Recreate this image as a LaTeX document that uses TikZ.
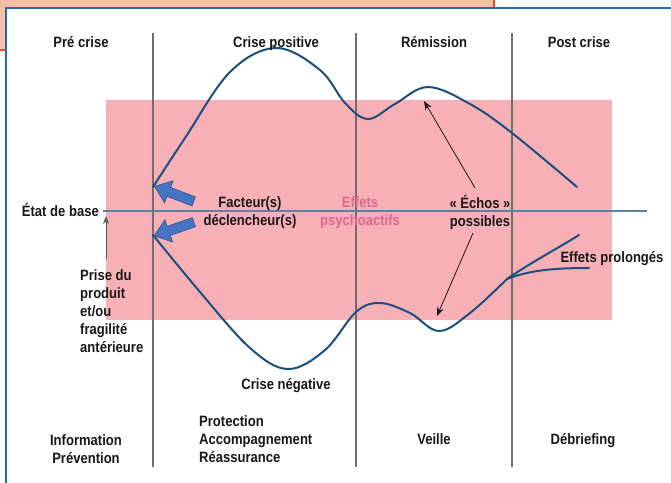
\documentclass[tikz,border=0pt]{standalone}
\usepackage{fontspec}
\setmainfont{Liberation Sans}[FakeStretch=0.87]
\usetikzlibrary{shapes.arrows,arrows.meta}
\definecolor{salmon}{HTML}{F9BEA6}
\definecolor{redline}{HTML}{E5473A}
\definecolor{frameblue}{HTML}{1F6FB0}
\definecolor{pinkzone}{HTML}{F7B0B6}
\definecolor{curveblue}{HTML}{1C4F7E}
\definecolor{baseblue}{HTML}{5E7FA8}
\definecolor{arrowfill}{HTML}{4774C2}
\definecolor{arrowline}{HTML}{2D4F8C}
\definecolor{effpink}{HTML}{E2678C}
\definecolor{txt}{HTML}{1A1718}
\definecolor{sepgray}{HTML}{6E6E6E}
\begin{document}
\begin{tikzpicture}[x=1pt,y=-1pt,
  lab/.style={font=\fontsize{15}{18}\selectfont\bfseries, text=txt, inner sep=0pt},
  sep/.style={sepgray, line width=1.1pt},
  crv/.style={curveblue, line width=2pt, line cap=round},
  bigarrow/.style={single arrow, draw=arrowline, fill=arrowfill, line width=0.6pt,
    minimum height=42pt, inner sep=4.5pt, single arrow head extend=7pt,
    single arrow tip angle=75, single arrow head indent=0pt},
  thinarrow/.style={txt, line width=0.8pt, -{Stealth[length=9pt,width=7pt]}}]
\useasboundingbox (0,0) rectangle (671,482);
% top-left background box and frame
\fill[salmon] (-2,-2) rectangle (494,50);
\draw[redline, line width=1.2pt] (494,-2) -- (494,50) -- (-2,50);
\draw[frameblue, line width=2.4pt, fill=white] (6,8) rectangle (700,510);
% pink zone
\fill[pinkzone] (106,100) rectangle (612,320);
% column separators
\draw[sep] (153,33) -- (153,467);
\draw[sep] (356,33) -- (356,467);
\draw[sep] (512,33) -- (512,467);
% baseline
\node[lab, anchor=base east] (base) at (99,216) {État de base};
\coordinate (baseend) at (647,211);
\draw[baseblue, line width=1.3pt] (103,211) -- (baseend);
% curves
\draw[crv] plot[smooth, tension=0.6] coordinates {(153,187) (185,138) (230,72) (276,48) (320,70) (345,103) (368,119) (395,104) (428,87) (470,104) (512,133) (577,187)};
\draw[crv] plot[smooth, tension=0.6] coordinates {(153,235) (200,292) (250,348) (288,369) (325,350) (356,312) (380,303) (410,313) (439,331) (470,313) (507,279)};
\coordinate (fork) at (507,279);
\coordinate (upend) at (579,235);
\coordinate (lowend) at (589,268);
\draw[crv] (fork) .. controls (530,263) and (555,250) .. (upend);
\draw[crv] (fork) .. controls (530,270) and (555,268) .. (lowend);
% big arrows
\node[bigarrow, rotate=159] (a1) at (177,195) {};
\node[bigarrow, rotate=199] (a2) at (177,228) {};
% labels
\node[lab] (h1) at (81,47) [anchor=base] {Pré crise};
\node[lab] (h2) at (276,47) [anchor=base] {Crise positive};
\node[lab] (h3) at (434,47) [anchor=base] {Rémission};
\node[lab] (h4) at (579,47) [anchor=base] {Post crise};
\node[lab, align=center] (fact) at (250,213) {Facteur(s)\\déclencheur(s)};
\node[lab, align=center, text=effpink] (eff) at (360,213) {Effets\\psychoactifs};
\node[lab, align=center] (echos) at (480,212) {« Échos »\\possibles};
\node[lab, align=left, anchor=north west] (prise) at (80,269) {Prise du\\produit\\et/ou\\fragilité\\antérieure};
\node[lab, anchor=base] (neg) at (286,389) {Crise négative};
\node[lab, anchor=base] (prol) at (612,262) {Effets prolongés};
\node[lab, align=center] (info) at (86,449) {Information\\Prévention};
\node[lab, align=left, anchor=north west] (prot) at (199,415) {Protection\\Accompagnement\\Réassurance};
\node[lab, anchor=base] (veille) at (434,444) {Veille};
\node[lab, anchor=base] (debr) at (583,444) {Débriefing};
% thin arrows
\coordinate (e1s) at (475,188);
\coordinate (e1t) at (424,101);
\coordinate (e2s) at (473,233);
\coordinate (e2t) at (437,316);
\draw[thinarrow] (e1s) -- (e1t);
\draw[thinarrow] (e2s) -- (e2t);
\coordinate (ps) at (106,259);
\coordinate (pt) at (106,216);
\draw[sepgray!80!black, line width=0.9pt, -{Stealth[length=8pt,width=6pt]}] (ps) -- (pt);
\end{tikzpicture}
\end{document}
